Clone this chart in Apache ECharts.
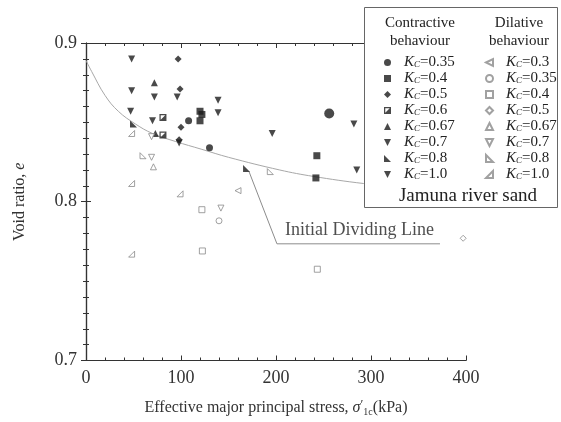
<!DOCTYPE html>
<html>
<head>
<meta charset="utf-8">
<script src="https://cdn.jsdelivr.net/npm/echarts@6/dist/echarts.min.js"></script>
<style>
  html, body { margin: 0; padding: 0; background: #fff; }
  #chart { width: 561px; height: 422px; }
</style>
</head>
<body>
<div id="chart"></div>
<script>
// Contractive behaviour (filled markers): [sigma'1c (kPa), e]
var contr035 = [[108, 0.851], [130, 0.834], [256, 0.8556, 'big']];
var contr040 = [[120, 0.857], [122, 0.855], [120, 0.851], [243, 0.829], [242, 0.815]];
var contr050 = [[97, 0.890], [99, 0.871], [100, 0.847], [98, 0.839]];
var contr060 = [[81, 0.853], [81, 0.842]];
var contr067 = [[72, 0.875], [73, 0.843]];
var contr070 = [[48, 0.890], [48, 0.870], [72, 0.866], [96, 0.866], [47, 0.857], [70, 0.851], [98, 0.837]];
var contr080 = [[50, 0.849], [169, 0.821]];
var contr100 = [[139, 0.864], [139, 0.856], [196, 0.843], [282, 0.849], [285, 0.820]];

// Dilative behaviour (hollow markers)
var dil030 = [[160, 0.807]];
var dil035 = [[140, 0.788]];
var dil040 = [[122, 0.795], [122.5, 0.769], [243.5, 0.7575]];
var dil050 = [[397, 0.777]];
var dil067 = [[71, 0.822]];
var dil070 = [[69, 0.841], [69, 0.828], [142, 0.796]];
var dil080 = [[60, 0.829], [194, 0.819]];
var dil100 = [[48, 0.843], [48, 0.8115], [99, 0.805], [48, 0.767]];

// Initial dividing line
var dividingLine = [[0, 0.889], [6, 0.882], [20, 0.867], [34, 0.857], [52, 0.849], [70, 0.843],
  [94, 0.838], [122, 0.833], [150, 0.828], [204, 0.820], [239, 0.816], [292, 0.8115], [330, 0.8095]];

// Callout for the dividing line label
var calloutLine = [[171.6, 0.819], [201, 0.7735], [372.6, 0.7735]];
var calloutText = [[288, 0.7822]];

var xTicks = [0, 100, 200, 300, 400];
var yTicks = [0.7, 0.8, 0.9];

var SERIF = '"Liberation Serif", "DejaVu Serif", serif';

var P = {
  up: 'path://M5,0L10,10L0,10Z',
  down: 'path://M0,0L10,0L5,10Z',
  left: 'path://M0,5L10,0L10,10Z',
  lowerLeft: 'path://M0,0L0,10L10,10Z',
  lowerRight: 'path://M10,0L10,10L0,10Z',
  halfSquare: 'path://M0,0L10,0L10,10L0,10Z M1.8,1.8L1.8,8.2L8.2,1.8Z'
};

var filled = { color: '#1c1c1c', borderColor: '#1c1c1c', borderWidth: 0 };
var hollow = { color: '#ffffff', borderColor: '#8a8a8a', borderWidth: 1 };

function pts(arr) {
  return arr.map(function (d) {
    var o = { value: [d[0], d[1]] };
    if (d[2] === 'big') o.symbolSize = 10;
    return o;
  });
}

var contrDefs = [
  ['C0.35', contr035, 'circle', 7],
  ['C0.4', contr040, 'rect', 7],
  ['C0.5', contr050, 'diamond', 7],
  ['C0.6', contr060, P.halfSquare, 7],
  ['C0.67', contr067, P.up, 7],
  ['C0.7', contr070, P.down, 7],
  ['C0.8', contr080, P.lowerLeft, 7],
  ['C1.0', contr100, P.down, 7]
];
var dilDefs = [
  ['D0.3', dil030, P.left, 6],
  ['D0.35', dil035, 'circle', 6],
  ['D0.4', dil040, 'rect', 6],
  ['D0.5', dil050, 'diamond', 6],
  ['D0.67', dil067, P.up, 6],
  ['D0.7', dil070, P.down, 6],
  ['D0.8', dil080, P.lowerLeft, 6],
  ['D1.0', dil100, P.lowerRight, 6]
];

var series = [];
series.push({
  type: 'line', name: 'dividing', data: dividingLine, smooth: 0.4, symbol: 'none',
  lineStyle: { color: '#a8a8a8', width: 1 }, z: 1, silent: true
});
series.push({
  type: 'line', name: 'callout', data: calloutLine, symbol: 'none',
  lineStyle: { color: '#8c8c8c', width: 1 }, z: 1, silent: true
});
series.push({
  type: 'scatter', name: 'calloutText', data: calloutText, symbolSize: 0,
  label: { show: true, position: 'inside', formatter: 'Initial Dividing Line',
    fontFamily: SERIF, fontSize: 18, color: '#222' }, z: 6, silent: true
});
contrDefs.forEach(function (d) {
  series.push({ type: 'scatter', name: d[0], data: pts(d[1]), symbol: d[2], symbolSize: d[3],
    itemStyle: filled, z: 3 });
});
dilDefs.forEach(function (d) {
  series.push({ type: 'scatter', name: d[0], data: pts(d[1]), symbol: d[2], symbolSize: d[3],
    itemStyle: hollow, z: 3 });
});

var kRich = {
  k: { fontFamily: SERIF, fontStyle: 'italic', fontSize: 15, color: '#222', lineHeight: 14, verticalAlign: 'middle' },
  s: { fontFamily: SERIF, fontStyle: 'italic', fontSize: 9, color: '#222', lineHeight: 14, verticalAlign: 'bottom' },
  t: { fontFamily: SERIF, fontSize: 15, color: '#222', lineHeight: 14, verticalAlign: 'middle' }
};
function kcFormatter(name) {
  return '{k|K}{s|C}{t|=' + name.slice(1) + '}';
}

var axisCommon = {
  min: 0, max: 400, interval: 100,
  axisLine: { lineStyle: { color: '#333', width: 1.2 } },
  axisTick: { inside: true, length: 5, lineStyle: { color: '#333' } },
  minorTick: { show: true, splitNumber: 5, length: 3, lineStyle: { color: '#333' } },
  splitLine: { show: false }
};
var yCommon = {
  min: 0.7, max: 0.9, interval: 0.1,
  axisLine: { show: true, lineStyle: { color: '#333', width: 1.2 } },
  axisTick: { show: true, inside: true, length: 5, lineStyle: { color: '#333' } },
  minorTick: { show: true, splitNumber: 10, length: 3, lineStyle: { color: '#333' } },
  splitLine: { show: false }
};

var option = {
  backgroundColor: '#fff',
  animation: false,
  grid: { left: 86, right: 95, top: 43, bottom: 58 },
  xAxis: [
    Object.assign({}, axisCommon, {
      type: 'value', position: 'bottom',
      axisLabel: { fontFamily: SERIF, fontSize: 18, color: '#333', margin: 9 },
      name: '{n|Effective major principal stress, }{i|σ}{p|′}{b|1c}{n|(kPa)}',
      nameLocation: 'middle', nameGap: 38,
      nameTextStyle: { rich: {
        n: { fontFamily: SERIF, fontSize: 16, color: '#333' },
        i: { fontFamily: SERIF, fontSize: 16, fontStyle: 'italic', color: '#333' },
        p: { fontFamily: SERIF, fontSize: 13, color: '#333', padding: [0, 0, 6, 0] },
        b: { fontFamily: SERIF, fontSize: 10, color: '#333', padding: [8, 0, 0, 0] }
      } }
    }),
    Object.assign({}, axisCommon, {
      type: 'value', position: 'top', axisLabel: { show: false }
    })
  ],
  yAxis: [
    Object.assign({}, yCommon, {
      type: 'value', position: 'left',
      axisLabel: { fontFamily: SERIF, fontSize: 18, color: '#333', margin: 9,
        formatter: function (v) { return v.toFixed(1); } },
      name: '{n|Void ratio, }{i|e}', nameLocation: 'middle', nameGap: 58,
      nameTextStyle: { rich: {
        n: { fontFamily: SERIF, fontSize: 16, color: '#333' },
        i: { fontFamily: SERIF, fontSize: 16, fontStyle: 'italic', color: '#333' }
      } }
    }),
    Object.assign({}, yCommon, {
      type: 'value', position: 'right', axisLabel: { show: false }
    })
  ],
  legend: [
    {
      data: contrDefs.map(function (d) { return d[0]; }),
      orient: 'vertical', left: 384, top: 55, padding: 0, itemWidth: 7, itemHeight: 7, itemGap: 1,
      selectedMode: false, formatter: kcFormatter, z: 20,
      textStyle: { rich: kRich, padding: [0, 0, 0, 8] }
    },
    {
      data: dilDefs.map(function (d) { return d[0]; }),
      orient: 'vertical', left: 485, top: 55, padding: 0, itemWidth: 7, itemHeight: 7, itemGap: 1,
      selectedMode: false, formatter: kcFormatter, z: 20,
      textStyle: { rich: kRich, padding: [0, 0, 0, 8] }
    }
  ],
  graphic: [
    { type: 'rect', z: 10, shape: { x: 364.5, y: 7.5, width: 193, height: 200 },
      style: { fill: '#fff', stroke: '#666', lineWidth: 1 } },
    { type: 'text', z: 21, x: 420, y: 23, style: { text: 'Contractive', font: '15px ' + SERIF,
      fill: '#222', align: 'center', verticalAlign: 'middle' } },
    { type: 'text', z: 21, x: 420, y: 41, style: { text: 'behaviour', font: '15px ' + SERIF,
      fill: '#222', align: 'center', verticalAlign: 'middle' } },
    { type: 'text', z: 21, x: 519, y: 23, style: { text: 'Dilative', font: '15px ' + SERIF,
      fill: '#222', align: 'center', verticalAlign: 'middle' } },
    { type: 'text', z: 21, x: 519, y: 41, style: { text: 'behaviour', font: '15px ' + SERIF,
      fill: '#222', align: 'center', verticalAlign: 'middle' } },
    { type: 'text', z: 21, x: 468, y: 196, style: { text: 'Jamuna river sand', font: '19px ' + SERIF,
      fill: '#222', align: 'center', verticalAlign: 'middle' } }
  ],
  series: series
};

var chart = echarts.init(document.getElementById('chart'), null, { renderer: 'canvas' });
chart.setOption(option);
</script>
</body>
</html>
